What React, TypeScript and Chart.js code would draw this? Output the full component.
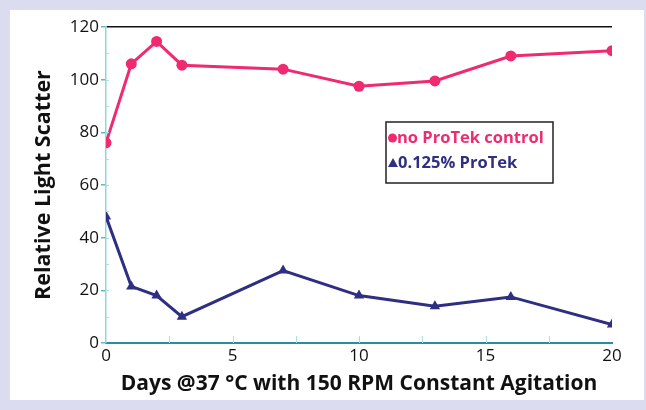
import React, { useEffect, useRef } from "react";
import { Chart, registerables } from "chart.js";

Chart.register(...registerables);

const days = [0, 1, 2, 3, 7, 10, 13, 16, 20];
const controlValues = [76, 106, 114.5, 105.5, 104, 97.5, 99.5, 109, 111];
const protekValues = [48, 21.5, 18, 10, 27.5, 18, 14, 17.5, 7];
const xTicks = [0, 5, 10, 15, 20];
const yTicks = [0, 20, 40, 60, 80, 100, 120];
const seriesNames = ["no ProTek control", "0.125% ProTek"];
const xTitle = "Days @37 °C with 150 RPM Constant Agitation";
const yTitle = "Relative Light Scatter";

const PINK = "#ef2a70";
const NAVY = "#2e2e82";
const FONT = "'Open Sans', 'Noto Sans', sans-serif";

const framePlugin = {
  id: "frame",
  beforeDraw(chart: any) {
    const ctx = chart.ctx;
    ctx.save();
    ctx.fillStyle = "#dcdcf0";
    ctx.fillRect(0, 0, chart.width, chart.height);
    ctx.fillStyle = "#ffffff";
    ctx.fillRect(10, 10, chart.width - 12, chart.height - 20);
    ctx.restore();
  },
  afterDatasetsDraw(chart: any) {
    const ctx = chart.ctx;
    const xs = chart.scales.x;
    const ys = chart.scales.y;
    const a = chart.chartArea;
    ctx.save();
    // minor ticks inside
    ctx.strokeStyle = "#a8e0e6";
    ctx.lineWidth = 1;
    for (let v = 2.5; v < 20; v += 2.5) {
      const px = Math.round(xs.getPixelForValue(v)) + 0.5;
      ctx.beginPath();
      ctx.moveTo(px, a.bottom);
      ctx.lineTo(px, a.bottom - 7);
      ctx.stroke();
    }
    for (let v = 10; v < 120; v += 10) {
      const py = Math.round(ys.getPixelForValue(v)) + 0.5;
      ctx.beginPath();
      ctx.moveTo(a.left, py);
      ctx.lineTo(a.left + 3, py);
      ctx.stroke();
    }
    // legend
    const lx = a.left + 280;
    const ly = a.top + 95;
    const lw = 167;
    const lh = 61;
    ctx.fillStyle = "#ffffff";
    ctx.fillRect(lx, ly, lw, lh);
    ctx.strokeStyle = "#222222";
    ctx.lineWidth = 1.5;
    ctx.strokeRect(lx, ly, lw, lh);
    ctx.font = `bold 16.5px ${FONT}`;
    ctx.textBaseline = "middle";
    ctx.textAlign = "left";
    // entry 1
    ctx.fillStyle = PINK;
    ctx.beginPath();
    ctx.arc(lx + 6.5, ly + 16, 4.5, 0, Math.PI * 2);
    ctx.fill();
    ctx.fillText(seriesNames[0], lx + 11, ly + 16);
    // entry 2
    ctx.fillStyle = NAVY;
    ctx.beginPath();
    ctx.moveTo(lx + 7, ly + 36);
    ctx.lineTo(lx + 12, ly + 45);
    ctx.lineTo(lx + 2, ly + 45);
    ctx.closePath();
    ctx.fill();
    ctx.fillText(seriesNames[1], lx + 12, ly + 41);
    ctx.restore();
  },
};

export default function App() {
  const ref = useRef<HTMLCanvasElement | null>(null);
  useEffect(() => {
    document.body.style.margin = "0";
    const chart = new Chart(ref.current as HTMLCanvasElement, {
      type: "line",
      data: {
        datasets: [
          {
            label: seriesNames[0],
            data: days.map((d, i) => ({ x: d, y: controlValues[i] })),
            borderColor: PINK,
            backgroundColor: PINK,
            borderWidth: 3,
            pointStyle: "circle",
            pointRadius: 5.5,
            pointBorderWidth: 0,
          },
          {
            label: seriesNames[1],
            data: days.map((d, i) => ({ x: d, y: protekValues[i] })),
            borderColor: NAVY,
            backgroundColor: NAVY,
            borderWidth: 3,
            pointStyle: "triangle",
            pointRadius: 6,
            pointBorderWidth: 0,
          },
        ],
      },
      options: {
        animation: false,
        responsive: false,
        layout: { padding: { top: 27, right: 34, left: 0, bottom: 0 } },
        plugins: { legend: { display: false }, tooltip: { enabled: false } },
        scales: {
          x: {
            type: "linear",
            min: 0,
            max: 20,
            afterBuildTicks: (s: any) => {
              s.ticks = xTicks.map((v) => ({ value: v }));
            },
            afterFit: (s: any) => {
              s.height = 67;
            },
            border: { color: "#2a8ca0", width: 2 },
            grid: { drawOnChartArea: false, drawTicks: false },
            ticks: {
              color: "#111",
              font: { family: FONT, size: 17 },
              padding: 3,
              maxRotation: 0,
            },
            title: {
              display: true,
              text: xTitle,
              color: "#111",
              font: { family: FONT, size: 21, weight: "bold" },
              padding: { top: 0, bottom: 13 },
            },
          },
          y: {
            type: "linear",
            min: 0,
            max: 120,
            afterBuildTicks: (s: any) => {
              s.ticks = yTicks.map((v) => ({ value: v }));
            },
            afterFit: (s: any) => {
              s.width = 106;
            },
            border: { color: "#8fd6df", width: 1.5 },
            grid: {
              drawOnChartArea: true,
              drawTicks: true,
              tickLength: 5,
              tickColor: "#5bbcc8",
              color: (c: any) => (c.tick && c.tick.value === 120 ? "#111" : "rgba(0,0,0,0)"),
              lineWidth: 1.5,
            },
            ticks: {
              color: "#111",
              font: { family: FONT, size: 17 },
              padding: 2,
            },
            title: {
              display: true,
              text: yTitle,
              color: "#111",
              font: { family: FONT, size: 21.5, weight: "bold" },
              padding: { top: 31, bottom: 0 },
            },
          },
        },
      },
      plugins: [framePlugin],
    } as any);
    return () => chart.destroy();
  }, []);
  return <canvas ref={ref} width={646} height={410} style={{ display: "block" }} />;
}
